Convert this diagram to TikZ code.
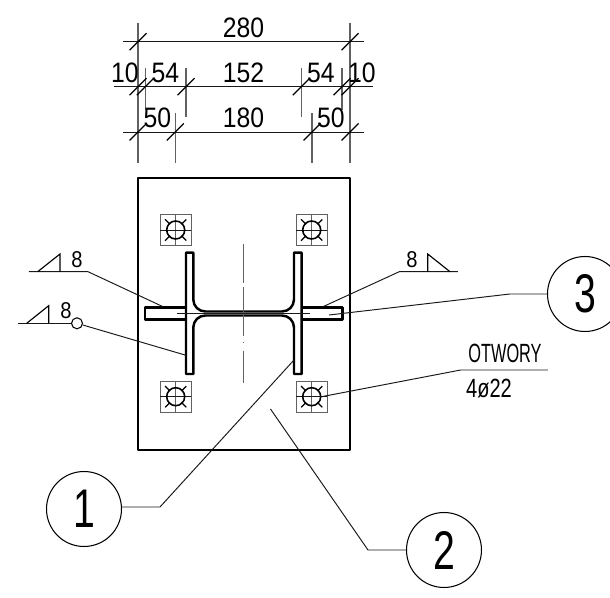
\documentclass[tikz,border=0pt]{standalone}
\usepackage{fontspec}
\setmainfont[FakeStretch=0.88]{Liberation Sans}
\newfontfamily\notefont[FakeStretch=0.62]{Liberation Sans}
\newfontfamily\holefont[FakeStretch=0.76]{Liberation Sans}
\newfontfamily\markfont[FakeStretch=0.72]{Liberation Sans}
\tikzset{
	contour/.style={line width=1.4pt, line join=round},
	thinline/.style={line width=0.55pt, black!90},
	aux/.style={line width=0.7pt, black!62},
	axis/.style={line width=0.7pt, black!62},
	dimtext/.style={inner sep=0pt, font=\fontsize{16}{16}\selectfont},
	weldtext/.style={inner sep=0pt, font=\fontsize{13}{13}\selectfont},
	notetext/.style={inner sep=0pt, font=\notefont\fontsize{15}{15}\selectfont},
	holetext/.style={inner sep=0pt, font=\holefont\fontsize{15}{15}\selectfont},
	callout/.style={circle, draw, line width=0.6pt, inner sep=0pt, minimum size=1.5cm, font=\markfont\fontsize{31}{31}\selectfont},
}
\begin{document}
\begin{tikzpicture}[x=0.02cm, y=-0.02cm]
	\useasboundingbox (0,0) rectangle (610,598);
	\clip (0,0) rectangle (610,598);

	\foreach \x/\ya/\yb in {138/23/163, 350/23/163, 175.3/113/163, 312/113/163, 145.3/68/110, 342/68/110, 186/68/117, 301.3/68/117}
		\draw[aux] (\x,\ya) -- (\x,\yb);
	\draw[thinline] (123,41.7) -- (364,41.7);
	\draw[thinline] (114,86.7) -- (373,86.7);
	\draw[thinline] (123,132) -- (364,132);
	\foreach \x/\y in {138/41.7, 350/41.7, 138/86.7, 145.3/86.7, 186/86.7, 301.3/86.7, 342/86.7, 350/86.7, 138/132, 175.3/132, 312/132, 350/132}
		\draw[line width=0.7pt] (\x-8.5,\y+8.5) -- (\x+8.5,\y-8.5);

	\node[dimtext] (d280) at (243.5,27.5) {280};
	\node[dimtext] (d10a) at (125,72.5) {10};
	\node[dimtext] (d54a) at (165.5,72.5) {54};
	\node[dimtext] (d152) at (243.5,72.5) {152};
	\node[dimtext] (d54b) at (321,72.5) {54};
	\node[dimtext] (d10b) at (362,72.5) {10};
	\node[dimtext] (d50a) at (157.5,117.5) {50};
	\node[dimtext] (d180) at (243.5,117.5) {180};
	\node[dimtext] (d50b) at (331,117.5) {50};

	\draw[contour] (138,178) rectangle (350,450);

	\foreach \x/\y in {175.7/230, 311.7/230, 175.7/396.7, 311.7/396.7} {
		\begin{scope}[shift={(\x,\y)}]
			\draw[aux] (-15.5,-15.5) rectangle (15.5,15.5);
			\draw[aux] (0,-15.5) -- (0,15.5);
			\draw[thinline] (-15.5,0) -- (15.5,0);
			\draw[line width=0.9pt] (0,0) circle[radius=9];
			\foreach \angle in {45, 135, 225, 315}
				\draw[line width=0.7pt] (\angle:8) -- (\angle:15);
		\end{scope}
	}

	\draw[contour] (186,252.7) -- (193.3,252.7) [rounded corners=0.24cm] -- (193.3,311.5) -- (294,311.5) [sharp corners] -- (294,252.7) -- (301.7,252.7) -- (301.7,374) -- (294,374) [rounded corners=0.24cm] -- (294,315.5) -- (193.3,315.5) [sharp corners] -- (193.3,374) -- (186,374) -- cycle;
	\draw[contour] (186,307.3) -- (145,307.3) -- (145,319.7) -- (186,319.7);
	\draw[contour] (301.7,307.3) -- (342.3,307.3) -- (342.3,319.7) -- (301.7,319.7);
	\draw[axis] (243.7,244) -- (243.7,281.7);
	\draw[axis] (243.7,282.5) -- (243.7,283.5);
	\draw[axis] (243.7,287) -- (243.7,336);
	\draw[axis] (243.7,342.5) -- (243.7,343.5);
	\draw[axis] (243.7,350.7) -- (243.7,383);
	\draw[thinline] (177,313.4) -- (310,313.4);

	\node[callout] (c1) at (84,509) {1};
	\node[callout] (c2) at (444,550) {2};
	\node[callout] (c3) at (585,294) {3};

	\coordinate (k1) at (160,507);
	\coordinate (e1) at (294,360);
	\coordinate (k2) at (368,550);
	\coordinate (e2) at (270.5,409);
	\coordinate (k3) at (510,294);
	\coordinate (e3) at (329,315);
	\draw[thinline] (c1.east |- k1) -- (k1) -- (e1);
	\draw[thinline] (c2) -- (k2) -- (e2);
	\draw[thinline] (c3) -- (k3) -- (e3);

	\coordinate (w1a) at (29,271.7);
	\coordinate (w1b) at (88,271.7);
	\coordinate (w1e) at (163,306.7);
	\draw[thinline] (w1a) -- (w1b) -- (w1e);
	\draw[line width=0.65pt] (37.7,271.7) -- (60,254) -- (60,271.7);
	\node[weldtext] (t1) at (77,260) {8};

	\coordinate (w2a) at (18,323.3);
	\node[circle, draw, line width=0.6pt, minimum size=0.22cm, inner sep=0pt] (r2) at (77,323.3) {};
	\coordinate (w2e) at (186,355.3);
	\draw[thinline] (w2a) -- (r2);
	\draw[thinline] (r2) -- (w2e);
	\draw[line width=0.65pt] (26.7,323.3) -- (48.7,305.7) -- (48.7,323.3);
	\node[weldtext] (t2) at (66,311) {8};

	\coordinate (w3a) at (458,271.7);
	\coordinate (w3b) at (399.3,271.7);
	\coordinate (w3e) at (323,306.7);
	\draw[thinline] (w3a) -- (w3b) -- (w3e);
	\draw[line width=0.65pt] (450,271.7) -- (427.7,254) -- (427.7,271.7);
	\node[weldtext] (t3) at (412,260) {8};

	\coordinate (n1) at (548,370);
	\coordinate (n2) at (460.7,370);
	\coordinate (n3) at (320,397);
	\draw[thinline] (n1) -- (n2) -- (n3);
	\node[notetext] (otw) at (505,353.5) {OTWORY};
	\node[holetext] (hol) at (489,389) {4ø22};
\end{tikzpicture}
\end{document}
